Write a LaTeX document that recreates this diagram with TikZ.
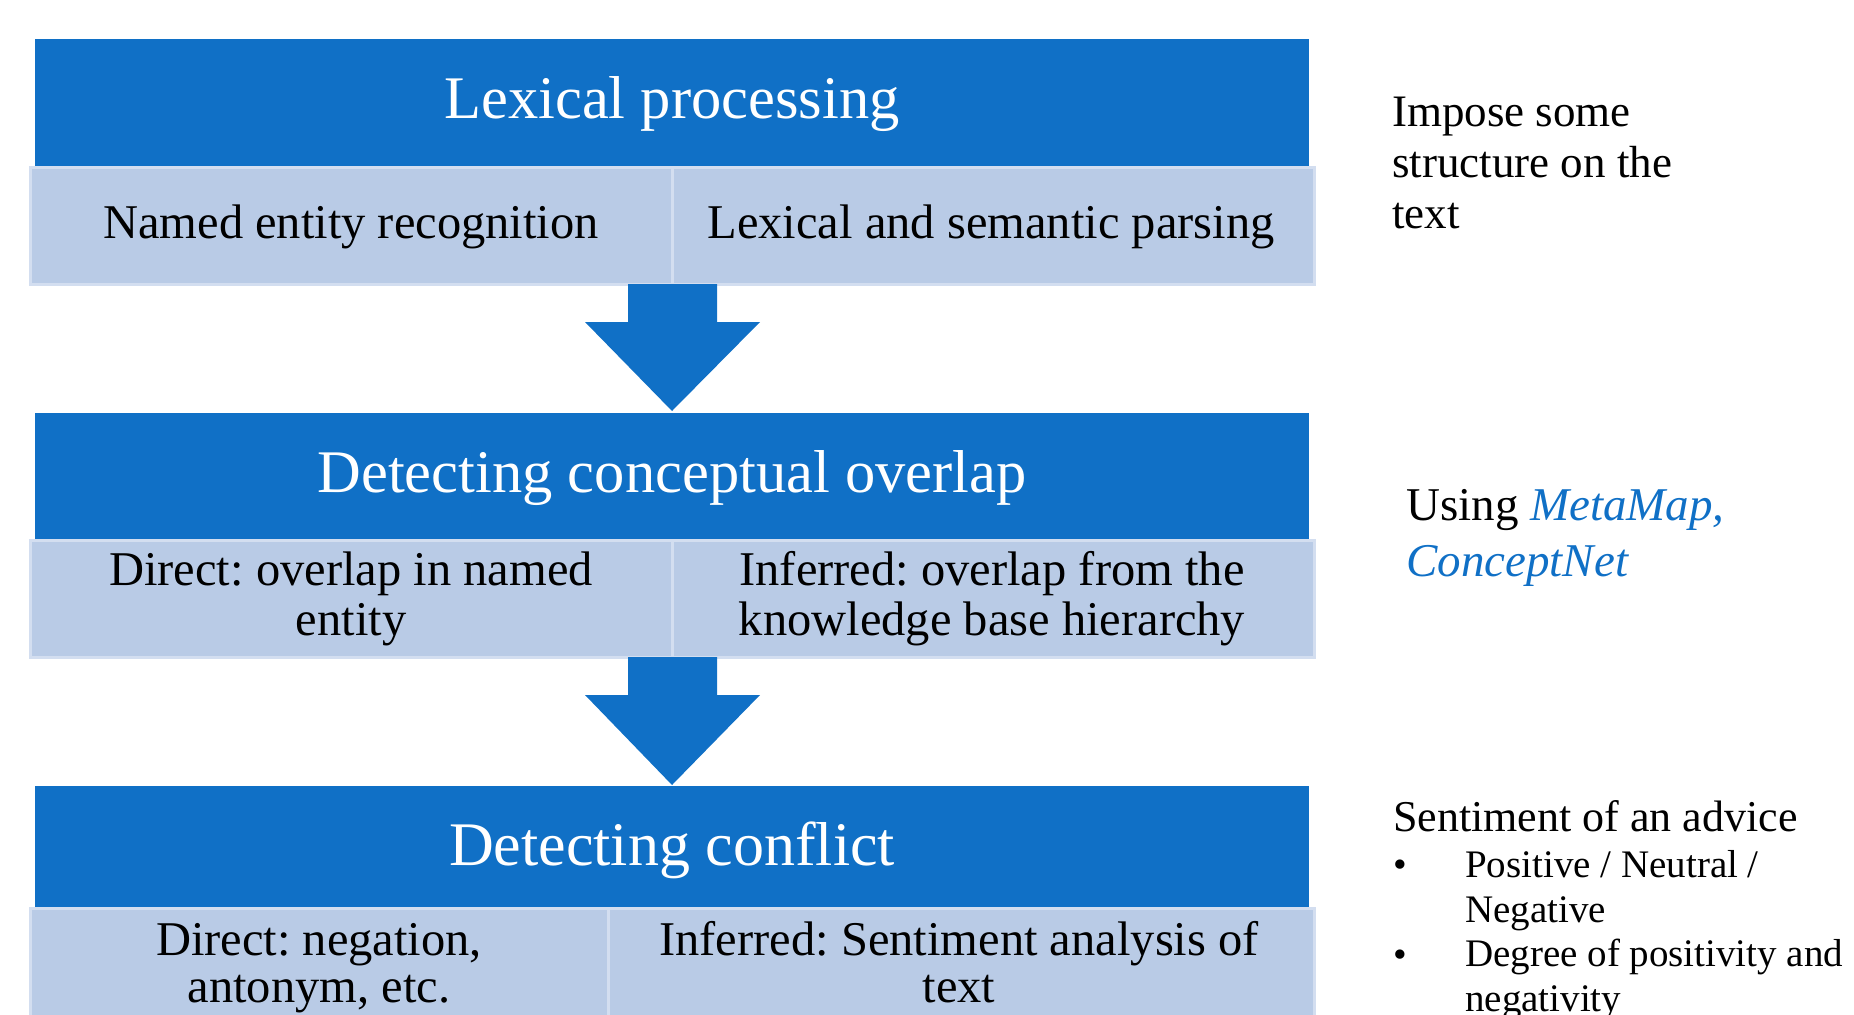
\documentclass[tikz,border=0pt]{standalone}
\usepackage{fontspec}
\setmainfont{Liberation Serif}
\usetikzlibrary{calc}
\definecolor{mainblue}{HTML}{1070C6}
\definecolor{lightblue}{HTML}{B9CBE6}
\definecolor{edgeblue}{HTML}{D3DEF0}
\frenchspacing
\begin{document}
\begin{tikzpicture}[x=1pt,y=-1pt,
  headbox/.style={fill=mainblue, draw=none, minimum width=1274pt, minimum height=#1, inner sep=0pt, outer sep=0pt},
  headtext/.style={text=white, inner sep=0pt, anchor=base, font=\fontsize{60.5}{66}\selectfont},
  cellbox/.style={fill=lightblue, draw=edgeblue, line width=3pt, minimum width=#1, inner sep=0pt, outer sep=0pt},
  celltext/.style={inner sep=0pt, anchor=base, align=center, font=\fontsize{48.5}{50}\selectfont},
  flow/.style={fill=mainblue, draw=none},
  side/.style={anchor=base west, inner sep=0pt, align=left}]
\useasboundingbox (0,0) rectangle (1854,1014);

% stage 1
\node[headbox=128pt] (h1) at (672,103) {};
\node[headtext] (t1) at (672,118) {Lexical processing};
\node[cellbox=642pt, minimum height=117pt] (c1a) at (351,225.5) {};
\node[cellbox=642pt, minimum height=117pt] (c1b) at (993,225.5) {};
\node[celltext] (s1a) at (351,238) {Named entity recognition};
\node[celltext] (s1b) at (991,238) {Lexical and semantic parsing};

% stage 2
\node[headbox=127pt] (h2) at (672,476.5) {};
\node[headtext] (t2) at (672,492) {Detecting conceptual overlap};
\node[cellbox=642pt, minimum height=117pt] (c2a) at (351,598.5) {};
\node[cellbox=642pt, minimum height=117pt] (c2b) at (993,598.5) {};
\node[celltext] (s2a) at (351,635) {Direct: overlap in named\\entity};
\node[celltext] (s2b) at (992,635) {Inferred: overlap from the\\knowledge base hierarchy};

% stage 3
\node[headbox=122pt] (h3) at (672,847) {};
\node[headtext, font=\fontsize{62}{66}\selectfont] (t3) at (672,865) {Detecting conflict};
\node[cellbox=578pt, minimum height=130pt] (c3a) at (319,973) {};
\node[cellbox=706pt, minimum height=130pt] (c3b) at (961,973) {};
\node[celltext, font=\fontsize{48.5}{47}\selectfont] (s3a) at (319,1002) {Direct: negation,\\antonym, etc.};
\node[celltext, font=\fontsize{48.5}{47}\selectfont] (s3b) at (959,1002) {Inferred: Sentiment analysis of\\text};

% arrows
\fill[flow] ($(c1a.south east)+(-44,0)$) -- ($(c1a.south east)+(45,0)$) -- ($(c1a.south east)+(45,38)$)
  -- ($(c1a.south east)+(88,38)$) -- ($(h2.north)+(0,-2)$) -- ($(c1a.south east)+(-87,38)$)
  -- ($(c1a.south east)+(-44,38)$) -- cycle;
\fill[flow] ($(c2a.south east)+(-44,0)$) -- ($(c2a.south east)+(45,0)$) -- ($(c2a.south east)+(45,38)$)
  -- ($(c2a.south east)+(88,38)$) -- ($(h3.north)+(0,-1)$) -- ($(c2a.south east)+(-87,38)$)
  -- ($(c2a.south east)+(-44,38)$) -- cycle;

% side notes
\node[side, font=\fontsize{45}{51}\selectfont] (n1) at (1392,228) {Impose some\\structure on the\\text};
\node[side, font=\fontsize{47}{56}\selectfont] (n2) at (1406,576) {Using \textcolor{mainblue}{\itshape MetaMap,}\\\textcolor{mainblue}{\itshape ConceptNet}};
\node[side, font=\fontsize{44}{50}\selectfont] (n3) at (1393,831) {Sentiment of an advice};
\node[side, font=\fontsize{39}{45}\selectfont] (b1) at (1393,877) {\textbullet};
\node[side, font=\fontsize{39}{45}\selectfont] (b1t) at (1465,922) {Positive / Neutral /\\Negative};
\node[side, font=\fontsize{39}{45}\selectfont] (b2) at (1393,967) {\textbullet};
\node[side, font=\fontsize{39}{45}\selectfont] (b2t) at (1465,1011) {Degree of positivity and\\negativity};
\end{tikzpicture}
\end{document}
